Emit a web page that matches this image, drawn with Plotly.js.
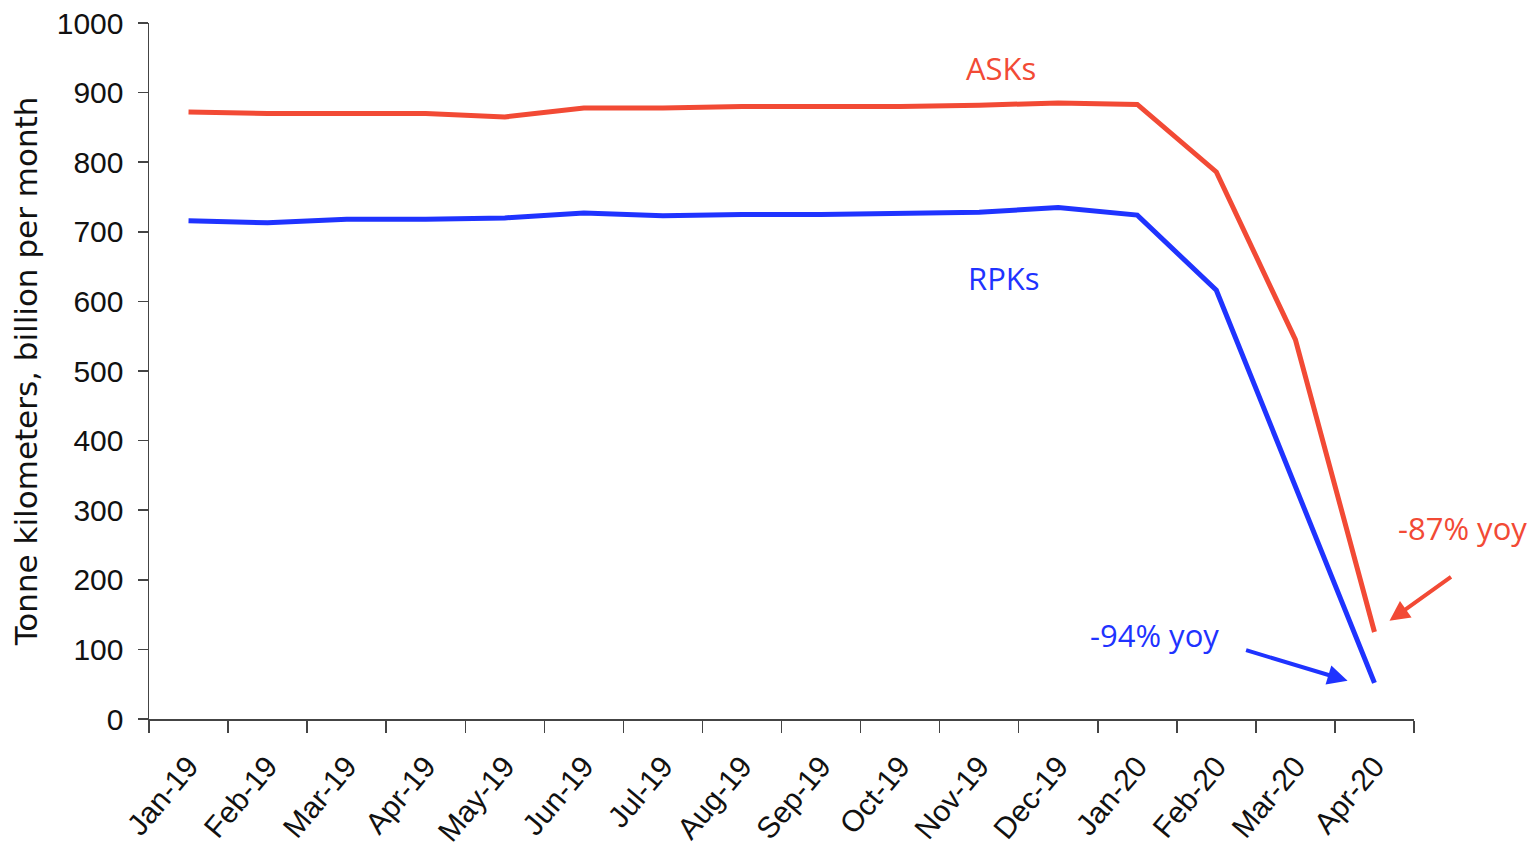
<!DOCTYPE html>
<html>
<head>
<meta charset="utf-8">
<script src="https://cdn.plot.ly/plotly-3.0.1.min.js"></script>
<style>html,body{margin:0;padding:0;background:#fff;}#chart{width:1533px;height:855px;}</style>
</head>
<body>
<div id="chart"></div>
<script>
const months = ["Jan-19","Feb-19","Mar-19","Apr-19","May-19","Jun-19","Jul-19","Aug-19","Sep-19","Oct-19","Nov-19","Dec-19","Jan-20","Feb-20","Mar-20","Apr-20"];
const asks = [872, 870, 870, 870, 865, 878, 878, 880, 880, 880, 882, 885, 883, 786, 545, 125];
const rpks = [716, 713, 718, 718, 720, 727, 723, 725, 725, 727, 728, 735, 724, 616, 333, 52];
const yTicks = [0,100,200,300,400,500,600,700,800,900,1000];

const red = "#F24A35";
const blue = "#1F33FF";
const font = "Liberation Sans, Arial, sans-serif";
const annFont = "Open Sans, Liberation Sans, sans-serif";
const titleFont = "DejaVu Sans, Open Sans, sans-serif";

const traces = [
  {x: months, y: asks, type: "scatter", mode: "lines", name: "ASKs", line: {color: red, width: 5}},
  {x: months, y: rpks, type: "scatter", mode: "lines", name: "RPKs", line: {color: blue, width: 5}}
];

const layout = {
  width: 1533, height: 855,
  margin: {l: 149, r: 119, t: 23, b: 136},
  paper_bgcolor: "#fff", plot_bgcolor: "#fff",
  showlegend: false,
  font: {family: font, size: 30, color: "#111"},
  xaxis: {
    type: "category", tickson: "boundaries", range: [-0.5, 15.5],
    showline: true, linecolor: "#444", linewidth: 1.5,
    ticks: "outside", ticklen: 12, tickcolor: "#444", tickwidth: 1.5,
    tickangle: -50, showgrid: false, zeroline: false, ticklabelstandoff: 16,
    tickfont: {family: font, size: 30, color: "#111"}
  },
  yaxis: {
    range: [0, 1000], tickvals: yTicks, ticktext: yTicks.map(String),
    showline: true, linecolor: "#444", linewidth: 1.5,
    ticks: "outside", ticklen: 10, tickcolor: "#444", tickwidth: 1.5,
    showgrid: false, zeroline: false, ticklabelstandoff: 8,
    tickfont: {family: font, size: 30, color: "#111"},
    title: {text: "Tonne kilometers, billion per month", font: {family: titleFont, size: 31, color: "#111"}, standoff: 10}
  },
  annotations: [
    {x: 10.27, y: 935, xref: "x", yref: "y", text: "ASKs", showarrow: false, font: {family: annFont, size: 31, color: red}},
    {x: 10.32, y: 634, xref: "x", yref: "y", text: "RPKs", showarrow: false, font: {family: annFont, size: 31, color: blue}},
    {x: 1.0387, y: 0.2744, xref: "paper", yref: "paper", xanchor: "center", yanchor: "middle", text: "-87% yoy", showarrow: false, font: {family: annFont, size: 31, color: red}},
    {x: 12.22, y: 121, xref: "x", yref: "y", text: "-94% yoy", showarrow: false, font: {family: annFont, size: 31, color: blue}},
    {x: 15.19, y: 141, xref: "x", yref: "y", text: "", showarrow: true, ax: 63, ay: -45,
     arrowhead: 2, arrowsize: 1, arrowwidth: 4, arrowcolor: red},
    {x: 14.66, y: 55, xref: "x", yref: "y", text: "", showarrow: true, ax: -103, ay: -31,
     arrowhead: 2, arrowsize: 1, arrowwidth: 4, arrowcolor: blue}
  ]
};

Plotly.newPlot("chart", traces, layout, {displayModeBar: false, staticPlot: true});
</script>
</body>
</html>
